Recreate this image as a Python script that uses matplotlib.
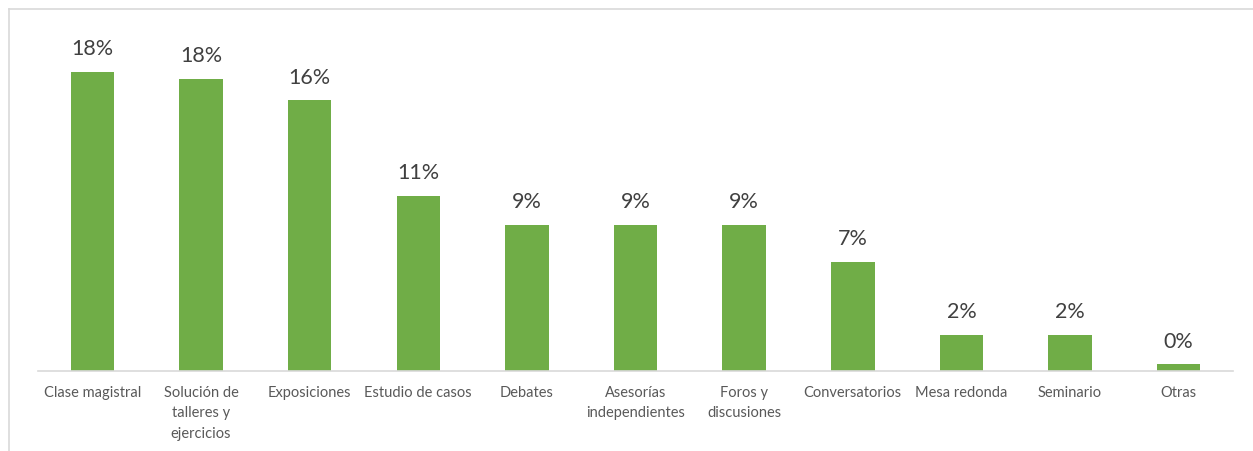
import matplotlib.pyplot as plt
from matplotlib.lines import Line2D

categorias = ["Clase magistral", "Solución de\ntalleres y\nejercicios", "Exposiciones",
              "Estudio de casos", "Debates", "Asesorías\nindependientes", "Foros y\ndiscusiones",
              "Conversatorios", "Mesa redonda", "Seminario", "Otras"]
porcentajes = [18.1, 17.7, 16.4, 10.6, 8.85, 8.85, 8.85, 6.6, 2.2, 2.2, 0.4]

plt.rcParams['font.family'] = ['Lato', 'DejaVu Sans']

fig = plt.figure(figsize=(12.53, 4.52), dpi=100)
ax = fig.add_axes([38 / 1253, 80 / 452, 1195 / 1253, 352 / 452])

x = range(len(categorias))
bars = ax.bar(x, porcentajes, width=0.4, color="#70AD47", zorder=2)

for b, v in zip(bars, porcentajes):
    ax.annotate(f"{v:.0f}%", (b.get_x() + b.get_width() / 2, v),
                xytext=(0, 10), textcoords="offset points",
                ha="center", va="bottom", fontsize=15.5, color="#404040")

ax.set_xlim(-0.5, len(categorias) - 0.5)
ax.set_ylim(0, 352 / 16.5)
ax.set_xticks(list(x))
ax.set_xticklabels(categorias, fontsize=10.5, color="#595959", linespacing=1.6)
ax.tick_params(axis="x", length=0, pad=10)
ax.set_yticks([])

for s in ["top", "right", "left"]:
    ax.spines[s].set_visible(False)
ax.spines["bottom"].set_color("#D9D9D9")
ax.spines["bottom"].set_linewidth(1.2)

# marco del gráfico
fig.add_artist(Line2D([9 / 1253, 1], [1 - 10 / 452, 1 - 10 / 452], color="#D9D9D9", lw=1.2))
fig.add_artist(Line2D([9 / 1253, 9 / 1253], [0, 1 - 10 / 452], color="#D9D9D9", lw=1.2))

fig.savefig("out.png", dpi=100)
